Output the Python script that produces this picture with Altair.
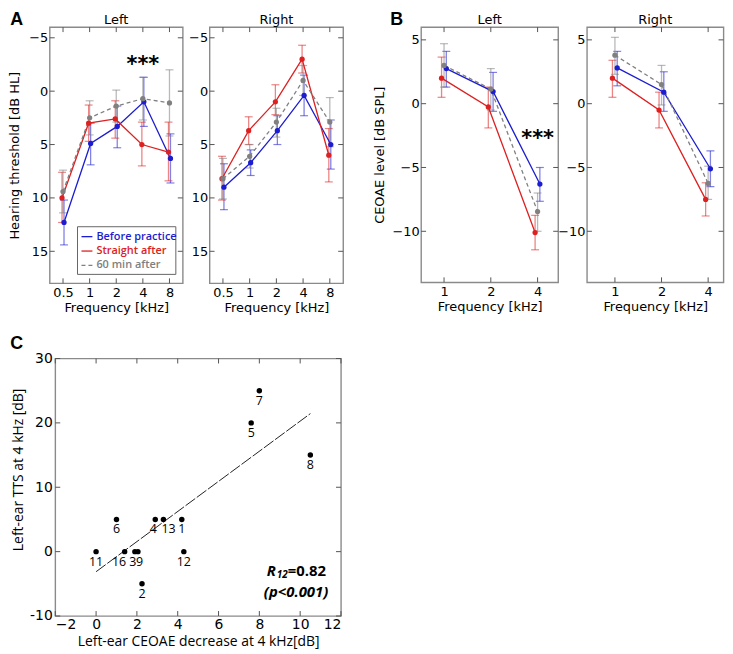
import math
import altair as alt
import pandas as pd

# ---------------- data ----------------
SERIES = ["Before practice", "Straight after", "60 min after"]
COLORS = ["#1c1cd0", "#dd2020", "#808080"]

FREQ_A = [0.5, 1, 2, 4, 8]
FREQ_B = [1, 2, 4]

# Panel A, left ear, hearing threshold (dB HL): mean and error-bar ends
AL_BEFORE = [12.3, 4.9, 3.3, 1.0, 6.3]
AL_BEFORE_LO = [10.2, 3.0, 1.4, -1.3, 4.0]
AL_BEFORE_HI = [14.4, 6.9, 5.3, 3.3, 8.6]
AL_AFTER = [10.0, 3.0, 2.6, 5.0, 5.7]
AL_AFTER_LO = [7.6, 1.3, 0.9, 2.9, 2.9]
AL_AFTER_HI = [12.3, 4.7, 4.4, 7.0, 8.4]
AL_60 = [9.4, 2.5, 1.4, 0.7, 1.1]
AL_60_LO = [7.4, 0.9, -0.1, -1.3, -2.0]
AL_60_HI = [11.4, 4.1, 2.9, 2.7, 4.2]

# Panel A, right ear
AR_BEFORE = [9.0, 6.7, 3.7, 0.4, 5.0]
AR_BEFORE_LO = [6.8, 5.5, 2.3, -1.5, 2.7]
AR_BEFORE_HI = [11.1, 7.9, 5.0, 2.3, 7.3]
AR_AFTER = [8.2, 3.7, 1.0, -3.0, 6.0]
AR_AFTER_LO = [6.1, 2.4, -0.6, -4.3, 3.5]
AR_AFTER_HI = [10.2, 5.0, 2.2, -1.7, 8.5]
AR_60 = [8.2, 6.1, 2.9, -1.0, 2.9]
AR_60_LO = [6.3, 5.0, 1.6, -2.4, 0.6]
AR_60_HI = [10.1, 7.2, 4.3, 0.4, 5.2]

# Panel B, left ear, CEOAE level (dB SPL)
BL_BEFORE = [2.75, 0.95, -6.3]
BL_BEFORE_LO = [1.3, -0.6, -7.65]
BL_BEFORE_HI = [4.1, 2.45, -5.0]
BL_AFTER = [2.0, -0.26, -10.1]
BL_AFTER_LO = [0.5, -1.9, -11.45]
BL_AFTER_HI = [3.65, 1.3, -8.75]
BL_60 = [3.0, 1.15, -8.45]
BL_60_LO = [1.3, -0.5, -10.0]
BL_60_HI = [4.7, 2.75, -7.0]

# Panel B, right ear
BR_BEFORE = [2.8, 0.9, -5.1]
BR_BEFORE_LO = [1.4, -0.6, -6.5]
BR_BEFORE_HI = [4.1, 2.5, -3.7]
BR_AFTER = [2.0, -0.5, -7.5]
BR_AFTER_LO = [0.5, -1.9, -8.8]
BR_AFTER_HI = [3.4, 0.9, -6.2]
BR_60 = [3.8, 1.5, -6.25]
BR_60_LO = [2.3, -0.1, -7.5]
BR_60_HI = [5.2, 3.0, -4.9]

# significance marks (frequency kHz, value)
STAR_AL = [4, -1.85]
STAR_BL = [4, -3.2]

# Panel C scatter
C_ID = ["1", "2", "3", "4", "5", "6", "7", "8", "9", "11", "12", "13", "16"]
C_X = [4.2, 2.25, 1.9, 2.9, 7.6, 1.0, 8.0, 10.5, 2.05, 0.0, 4.3, 3.3, 1.4]
C_Y = [5, -5, 0, 5, 20, 5, 25, 15, 0, 0, 0, 5, 0]
C_LABEL_ALIGN = ["center", "center", "right", "right", "center", "center",
                 "center", "center", "left", "center", "center", "left", "right"]
C_FIT_EXTENT = [0, 10.5]
C_R_TEXT = ["R", "12", "=0.82", "(p<0.001)"]

FONT = "DejaVu Sans"
SANS = "Open Sans"
TICK_COL = "#555555"
ONE = pd.DataFrame({"a": [0]})


def inner_ticks(xscale, yscale, xvals, yvals, w, h, xaxis, yaxis, L=5):
    tx = pd.DataFrame({"v": xvals})
    ty = pd.DataFrame({"v": yvals})
    X = alt.X("v:Q", scale=xscale, axis=xaxis)
    Y = alt.Y("v:Q", scale=yscale, axis=yaxis)
    st = dict(color=TICK_COL, strokeWidth=1)
    return [
        alt.Chart(tx).mark_rule(**st).encode(x=X, y=alt.value(h), y2=alt.value(h - L)),
        alt.Chart(tx).mark_rule(**st).encode(x=X, y=alt.value(0), y2=alt.value(L)),
        alt.Chart(ty).mark_rule(**st).encode(y=Y, x=alt.value(0), x2=alt.value(L)),
        alt.Chart(ty).mark_rule(**st).encode(y=Y, x=alt.value(w - L), x2=alt.value(w)),
    ]


def letter_mark(t, x, y):
    return alt.Chart(ONE).mark_text(align="left", baseline="top", font="Liberation Sans",
                                    fontWeight="bold", fontSize=18, color="black").encode(
        x=alt.value(x), y=alt.value(y), text=alt.value(t))


def audiogram(freqs, means, los, his, xdom, ydom, yvals, reverse, w, h, title,
              ytitle, offsets, ytitle_pad, star=None, legend=False, letter=None):
    rows = []
    for name, m, lo, hi in zip(SERIES, means, los, his):
        for f, a, b, c in zip(freqs, m, lo, hi):
            rows.append(dict(series=name, freq=f, mean=a, lo=b, hi=c))
    df = pd.DataFrame(rows)
    xscale = alt.Scale(domain=xdom, nice=False, zero=False)
    yscale = alt.Scale(domain=ydom, nice=False, zero=False, reverse=reverse)
    xvals = [math.log2(f) for f in freqs]
    xaxis = alt.Axis(values=xvals, labelExpr="'' + pow(2, datum.value)",
                     title="Frequency [kHz]", labelFlush=False, labelOverlap=False,
                     labelPadding=3, titlePadding=2, labelFontSize=13, titleFontSize=13)
    yaxis = alt.Axis(values=yvals, title=ytitle, labelOverlap=False, labelPadding=2,
                     titlePadding=ytitle_pad, labelFontSize=13, titleFontSize=13)

    def X(field):
        return alt.X(f"{field}:Q", scale=xscale, axis=xaxis)

    def Y(field):
        return alt.Y(f"{field}:Q", scale=yscale, axis=yaxis)

    base = alt.Chart(df).transform_calculate(lf="log(datum.freq) / LN2")
    layers = inner_ticks(xscale, yscale, xvals, yvals, w, h, xaxis, yaxis)
    for name, col, off in zip(SERIES, COLORS, offsets):
        sub = base.transform_filter(alt.datum.series == name)
        layers.append(sub.mark_rule(color=col, opacity=0.55, strokeWidth=1.3, xOffset=off)
                      .encode(x=X("lf"), y=Y("lo"), y2="hi:Q"))
        for fld in ("lo", "hi"):
            layers.append(sub.mark_tick(orient="horizontal", size=8, thickness=1.2, color=col,
                                        opacity=0.55, xOffset=off)
                          .encode(x=X("lf"), y=Y(fld)))
    for name, col, off in zip(SERIES, COLORS, offsets):
        sub = base.transform_filter(alt.datum.series == name)
        kw = dict(color=col, strokeWidth=1.3, xOffset=off)
        if name == SERIES[2]:
            kw["strokeDash"] = [4, 3]
        layers.append(sub.mark_line(**kw).encode(x=X("lf"), y=Y("mean"), order="freq:Q"))
    for name, col, off in zip(SERIES, COLORS, offsets):
        sub = base.transform_filter(alt.datum.series == name)
        layers.append(sub.mark_circle(size=28, color=col, opacity=1, xOffset=off)
                      .encode(x=X("lf"), y=Y("mean")))
    if star is not None:
        sdf = pd.DataFrame({"lf": [math.log2(star[0])], "v": [star[1]], "t": ["***"]})
        layers.append(alt.Chart(sdf).mark_text(font=FONT, fontWeight="bold", fontSize=21,
                                               baseline="alphabetic", color="black")
                      .encode(x=X("lf"), y=Y("v"), text="t:N"))
    if legend:
        layers.append(alt.Chart(ONE).mark_rect(fill="white", stroke="#666666", strokeWidth=1)
                      .encode(x=alt.value(28), x2=alt.value(127), y=alt.value(201), y2=alt.value(249)))
        for i, (name, col) in enumerate(zip(SERIES, COLORS)):
            yy = 211 + 14.5 * i
            kw = dict(color=col, strokeWidth=1.3)
            if i == 2:
                kw["strokeDash"] = [4, 3]
            layers.append(alt.Chart(ONE).mark_rule(**kw)
                          .encode(x=alt.value(32), x2=alt.value(43), y=alt.value(yy)))
            layers.append(alt.Chart(ONE).mark_text(align="left", baseline="middle", font=SANS,
                                                   fontSize=11, fontWeight=600, color=col)
                          .encode(x=alt.value(47), y=alt.value(yy), text=alt.value(name)))
    # panel title
    layers.append(alt.Chart(ONE).mark_text(align="center", baseline="alphabetic", font=FONT,
                                           fontSize=13, color="black")
                  .encode(x=alt.value(w / 2), y=alt.value(-3), text=alt.value(title)))
    if letter is not None:
        layers.append(letter_mark(*letter))
    return alt.layer(*layers).properties(width=w, height=h)


A_DOM_X = [-1.5, 3.5]
BL_DOM_X = [-0.49, 2.44]
BR_DOM_X = [-0.6, 2.33]
A_OFF = [1, -1, 0]
B_OFF = [2.3, -2.5, 0]

AL = audiogram(FREQ_A, [AL_BEFORE, AL_AFTER, AL_60], [AL_BEFORE_LO, AL_AFTER_LO, AL_60_LO],
               [AL_BEFORE_HI, AL_AFTER_HI, AL_60_HI], A_DOM_X, [-6, 18], [-5, 0, 5, 10, 15], True,
               134, 258, "Left", "Hearing threshold [dB HL]", A_OFF, 7, star=STAR_AL, legend=True,
               letter=("A", -39.7, -16.3))
AR = audiogram(FREQ_A, [AR_BEFORE, AR_AFTER, AR_60], [AR_BEFORE_LO, AR_AFTER_LO, AR_60_LO],
               [AR_BEFORE_HI, AR_AFTER_HI, AR_60_HI], A_DOM_X, [-6, 18], [-5, 0, 5, 10, 15], True,
               134.5, 258, "Right", None, A_OFF, 7)
BL = audiogram(FREQ_B, [BL_BEFORE, BL_AFTER, BL_60], [BL_BEFORE_LO, BL_AFTER_LO, BL_60_LO],
               [BL_BEFORE_HI, BL_AFTER_HI, BL_60_HI], BL_DOM_X, [-14, 6], [5, 0, -5, -10], False,
               138, 257, "Left", "CEOAE level [dB SPL]", B_OFF, 5, star=STAR_BL,
               letter=("B", -31, -16.3))
BR = audiogram(FREQ_B, [BR_BEFORE, BR_AFTER, BR_60], [BR_BEFORE_LO, BR_AFTER_LO, BR_60_LO],
               [BR_BEFORE_HI, BR_AFTER_HI, BR_60_HI], BR_DOM_X, [-14, 6], [5, 0, -5, -10], False,
               137.5, 257, "Right", None, B_OFF, 5)


def spacer(w, h):
    return alt.Chart(ONE).mark_point(opacity=0, size=1).encode(
        x=alt.X("a:Q", axis=None), y=alt.Y("a:Q", axis=None)
    ).properties(width=w, height=h, view=alt.ViewBackground(stroke="transparent"))


# ---------------- panel C ----------------
CW, CH = 287.7, 259.3
cdf = pd.DataFrame({"id": C_ID, "x": C_X, "y": C_Y, "al": C_LABEL_ALIGN})
cxs = alt.Scale(domain=[-2, 12], nice=False, zero=False)
cys = alt.Scale(domain=[-10, 30], nice=False, zero=False)
cxv = [-2, 0, 2, 4, 6, 8, 10, 12]
cyv = [-10, 0, 10, 20, 30]
cxa = alt.Axis(values=cxv, title="Left-ear CEOAE decrease at 4 kHz[dB]", labelFontSize=14,
               titleFontSize=14, labelPadding=2, titlePadding=3, titleFont=SANS)
cya = alt.Axis(values=cyv, title="Left-ear TTS at 4 kHz [dB]", labelFontSize=14,
               labelExpr="datum.value < 0 ? '-' + abs(datum.value) : '' + datum.value",
               titleFontSize=14, labelPadding=3, titlePadding=4, titleFont=SANS,
               titleY=CH / 2 - 18)
CX = alt.X("x:Q", scale=cxs, axis=cxa)
CY = alt.Y("y:Q", scale=cys, axis=cya)

c_layers = inner_ticks(cxs, cys, cxv, cyv, CW, CH, cxa, cya)
c_layers.append(alt.Chart(cdf).transform_regression("x", "y", extent=C_FIT_EXTENT)
                .mark_line(color="#222222", strokeWidth=1, strokeDash=[12, 2]).encode(x=CX, y=CY))
c_layers.append(alt.Chart(cdf).mark_circle(size=30, color="black", opacity=1).encode(x=CX, y=CY))
for al, dx in (("center", 0), ("left", -2), ("right", 1.5)):
    c_layers.append(alt.Chart(cdf).transform_filter(alt.datum.al == al)
                    .mark_text(align=al, baseline="middle", dx=dx, dy=10, font=SANS, fontSize=12.5,
                               color="black")
                    .encode(x=CX, y=CY, text="id:N"))
adf = pd.DataFrame({"x": [9.39, 9.39, 9.39, 9.8], "y": [-3.04, -3.04, -3.04, -6.3],
                    "t": C_R_TEXT})
c_layers.append(alt.Chart(adf.iloc[[0]]).mark_text(align="right", baseline="middle", dx=-12,
                                                   font=SANS, fontSize=15, fontWeight="bold",
                                                   fontStyle="italic", color="black")
                .encode(x=CX, y=CY, text="t:N"))
c_layers.append(alt.Chart(adf.iloc[[1]]).mark_text(align="right", baseline="middle", dy=4,
                                                   font=SANS, fontSize=10, fontWeight="bold",
                                                   fontStyle="italic", color="black")
                .encode(x=CX, y=CY, text="t:N"))
c_layers.append(alt.Chart(adf.iloc[[2]]).mark_text(align="left", baseline="middle",
                                                   font=SANS, fontSize=15, fontWeight="bold",
                                                   color="black")
                .encode(x=CX, y=CY, text="t:N"))
c_layers.append(alt.Chart(adf.iloc[[3]]).mark_text(align="center", baseline="middle",
                                                   font=SANS, fontSize=15, fontWeight="bold",
                                                   fontStyle="italic", color="black")
                .encode(x=CX, y=CY, text="t:N"))
c_layers.append(letter_mark("C", -45.3, -24))
C = alt.layer(*c_layers).properties(width=CW, height=CH)

S = 12
top = alt.hconcat(AL, spacer(26.6 - 2 * S, 10), AR, spacer(77.5 - 2 * S, 10), BL,
                  spacer(28.3 - 2 * S, 10), BR, spacing=S, bounds="flush")
bottom = alt.hconcat(spacer(1, 10), C, spacing=4.6, bounds="flush")
chart = alt.vconcat(top, bottom, spacing=18.7).properties(padding=0).configure_view(
    stroke="#8a8a8a", strokeWidth=1.4
).configure_axis(
    ticks=False, domain=False, grid=False, labelColor="black", titleColor="black",
    labelFont=FONT, titleFont=FONT, titleFontWeight="normal"
)

chart.save("out.html", embed_options={"renderer": "svg", "actions": False})
